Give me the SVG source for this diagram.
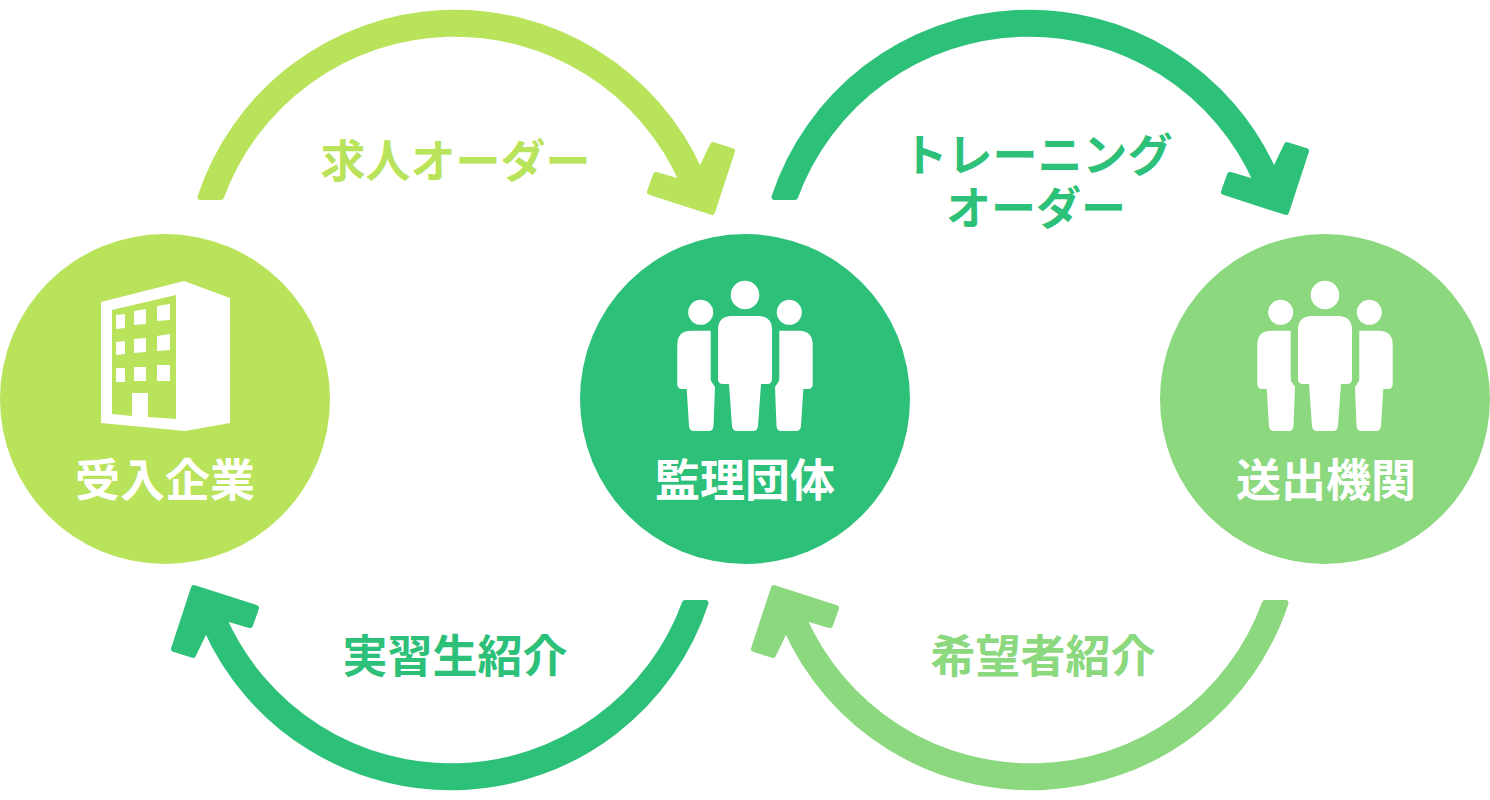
<svg xmlns="http://www.w3.org/2000/svg" width="1490" height="800" viewBox="0 0 1490 800">
  <style>
    text { font-family: "Noto Sans CJK JP", "Noto Sans", sans-serif; font-weight: 700; font-size: 45px; text-anchor: middle; }
    .name { fill: #fff; }
    .lime { fill: #b8e35b; stroke: #b8e35b; }
    .green { fill: #2dc079; stroke: #2dc079; }
    .mint { fill: #8bd87f; stroke: #8bd87f; }
    text.lime, text.green, text.mint { stroke: none; }
    circle.lime, circle.green, circle.mint { stroke: none; }
    .arrow { stroke-width: 6; stroke-linejoin: round; }
  </style>
  <defs>
    <!-- curved band with a square-cornered head; the stroke rounds its corners -->
    <path id="curve" d="M200.500 197 A268 268 0 0 1 700 172 L713 145 L732 151 L712 212 L650 192 L656 175 L683 183 A249 249 0 0 0 221 197 Z"/>
    <!-- three standing figures -->
    <g id="people" fill="#fff">
      <circle cx="745" cy="295" r="14.3"/>
      <circle cx="700.7" cy="312.3" r="12.5"/>
      <circle cx="789.3" cy="312.3" r="12.5"/>
      <path d="M732 316H758Q772 316 772 330V379Q772 384 767 384H761L758 426Q757.500 431 753 431H737Q732.500 431 732 426L729 384H723Q718 384 718 379V330Q718 316 732 316Z"/>
      <path d="M710.700 330.700H691Q677.300 330.700 677.300 345V384Q677.300 389 682 389H686.700L689 426Q689.500 431 694 431H709Q713 431 713.500 426L715 387L711 381Q710.700 380 710.700 378Z"/>
      <path d="M779.300 330.700H799Q812.700 330.700 812.700 345V384Q812.700 389 808 389H803.300L801 426Q800.500 431 796 431H781Q777 431 776.500 426L775 387L779 381Q779.300 380 779.300 378Z"/>
    </g>
  </defs>

  <g id="connectors">
    <use href="#curve" class="arrow lime"/>
    <use href="#curve" class="arrow green" transform="translate(574 0)"/>
    <use href="#curve" class="arrow green" transform="translate(906 800) rotate(180)"/>
    <use href="#curve" class="arrow mint" transform="translate(1486 800) rotate(180)"/>
  </g>

  <g id="label-job-order"><text class="lime" x="455.500" y="178">求人オーダー</text></g>
  <g id="label-training-order">
    <text class="green" x="1037.500" y="172">トレーニング</text>
    <text class="green" x="1036" y="225">オーダー</text>
  </g>
  <g id="label-trainee"><text class="green" x="455" y="673">実習生紹介</text></g>
  <g id="label-applicant"><text class="mint" x="1043" y="673">希望者紹介</text></g>

  <g id="node-company">
    <circle class="lime" cx="165" cy="399" r="165"/>
    <path fill="#fff" d="M101 302L184 281L230 298V423L185 431L101 423Z"/>
    <path fill="#b8e35b" d="M112 310L176 295V419L148 417V393H132V416L112 414Z"/>
    <path fill="#fff" d="M116 315L125 314V328L116 329ZM134 311L146 309V324L134 325ZM157 306L170 304V320L157 321ZM116 342L125 341V354L116 355ZM134 339L146 338V352L134 353ZM157 336L170 334V350L157 351ZM116 368H125V382H116ZM134 367H146V381H134ZM157 365H170V381H157Z"/>
    <text class="name" x="165" y="497">受入企業</text>
  </g>

  <g id="node-supervisor">
    <circle class="green" cx="745" cy="399" r="165"/>
    <use href="#people"/>
    <text class="name" x="745" y="497">監理団体</text>
  </g>

  <g id="node-sending">
    <circle class="mint" cx="1325" cy="399" r="165"/>
    <use href="#people" transform="translate(580 0)"/>
    <text class="name" x="1326" y="497">送出機関</text>
  </g>
</svg>
